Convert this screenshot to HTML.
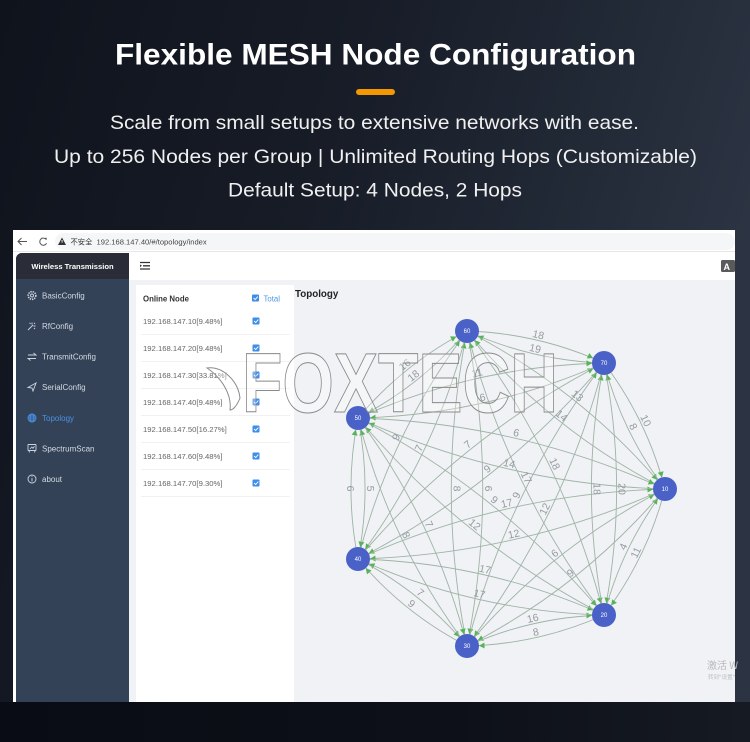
<!DOCTYPE html>
<html><head><meta charset="utf-8">
<style>
*{margin:0;padding:0;box-sizing:border-box}
html,body{width:750px;height:742px;overflow:hidden;background:#141923}
svg{display:block}
</style></head>
<body>
<svg width="750" height="742" viewBox="0 0 750 742" xmlns="http://www.w3.org/2000/svg" font-family="'Liberation Sans','Noto Sans CJK SC',sans-serif">
<defs>
<linearGradient id="bg" x1="0" y1="0" x2="1" y2="0.3">
<stop offset="0" stop-color="#0f131c"/>
<stop offset="0.45" stop-color="#171c27"/>
<stop offset="0.8" stop-color="#232b38"/>
<stop offset="1" stop-color="#2c3443"/>
</linearGradient>
<linearGradient id="bot" x1="0" y1="0" x2="1" y2="0">
<stop offset="0" stop-color="#0a0c15"/>
<stop offset="0.6" stop-color="#0d1018"/>
<stop offset="1" stop-color="#161a23"/>
</linearGradient>
<marker id="ar" markerUnits="userSpaceOnUse" markerWidth="30" markerHeight="12" viewBox="0 0 30 12" refX="20" refY="6" orient="auto">
<path d="M2.5 3 L8 6 L2.5 9 Z" fill="#58b358"/>
</marker>
</defs>

<rect width="750" height="742" fill="url(#bg)"/>
<rect y="702" width="750" height="40" fill="url(#bot)"/>

<!-- Header texts -->
<text x="115" y="64.5" font-size="29.5" font-weight="bold" fill="#ffffff" textLength="521" lengthAdjust="spacingAndGlyphs">Flexible MESH Node Configuration</text>
<rect x="356" y="89" width="39" height="6" rx="3" fill="#f39800"/>
<text x="110" y="129" font-size="19.5" fill="#f0f0f0" textLength="529" lengthAdjust="spacingAndGlyphs">Scale from small setups to extensive networks with ease.</text>
<text x="54" y="163" font-size="19.5" fill="#f0f0f0" textLength="643" lengthAdjust="spacingAndGlyphs">Up to 256 Nodes per Group | Unlimited Routing Hops (Customizable)</text>
<text x="228" y="196.5" font-size="19.5" fill="#f0f0f0" textLength="294" lengthAdjust="spacingAndGlyphs">Default Setup: 4 Nodes, 2 Hops</text>

<!-- Browser window -->
<rect x="13" y="230" width="722" height="472" fill="#ffffff"/>
<rect x="55" y="233" width="680" height="17" rx="8.5" fill="#f5f6f8"/>
<path d="M27 241.5 H18 M21.5 238 L18 241.5 L21.5 245" stroke="#555" stroke-width="1" fill="none"/>
<path d="M46.3 239.6 A3.6 3.6 0 1 0 46.6 243.2" stroke="#555" stroke-width="1" fill="none"/>
<path d="M44.8 238.6 L47 239.8 L46.2 237.3 Z" fill="#555"/>
<path d="M62 237.5 L66 245 L58 245 Z" fill="#333"/>
<rect x="61.6" y="240" width="0.9" height="2.6" fill="#fff"/>
<text x="70.5" y="244.5" font-size="7.3" fill="#333" font-family="'Noto Sans CJK SC',sans-serif">不安全</text>
<text x="96.5" y="244.5" font-size="7.6" fill="#444">192.168.147.40/#/topology/index</text>
<rect x="13" y="251" width="722" height="1" fill="#e6e6e6"/>

<!-- Sidebar -->
<path d="M16 259 a6 6 0 0 1 6 -6 H129 V702 H16 Z" fill="#344258"/>
<path d="M16 259 a6 6 0 0 1 6 -6 H129 V279 H16 Z" fill="#2a2d37"/>
<text x="72.5" y="269" font-size="7.6" font-weight="bold" fill="#ffffff" text-anchor="middle">Wireless Transmission</text>

<g fill="none" stroke="#cdd4de" stroke-width="0.9">
<circle cx="32" cy="295.5" r="3.8" stroke-dasharray="1.4 0.9" stroke-width="1.6"/>
<circle cx="32" cy="295.5" r="1.5"/>
<path d="M28 330 L33 325 M32 322.5 V324.5 M35.5 326 H33.5 M29.5 322.8 L30.6 323.9 M35 322.8 L34 323.9 M35 329 L34 328"/>
<path d="M28 355 H36 L33.5 353 M36 358.5 H28 L30.5 360.5"/>
<path d="M28 387.5 L36 383 L33 391 L32 388 Z"/>
<rect x="28" y="444.5" width="8" height="6" rx="0.5"/>
<path d="M29.5 452.5 L29 451 M34.5 452.5 L35 451 M30 449 L31.8 447 L33 448.3 L34.5 446.3"/>
<circle cx="32" cy="479" r="4"/>
<path d="M32 478 V481.5 M32 476.3 V477"/>
</g>
<g fill="none" stroke="#4a90e2" stroke-width="0.9">
<circle cx="32" cy="418" r="4"/>
<ellipse cx="32" cy="418" rx="1.8" ry="4"/>
<path d="M28 418 H36 M28.6 416 H35.4 M28.6 420 H35.4"/>
</g>
<g font-size="8" fill="#d3d9e2">
<text x="42" y="298.5">BasicConfig</text>
<text x="42" y="329">RfConfig</text>
<text x="42" y="359.7">TransmitConfig</text>
<text x="42" y="390">SerialConfig</text>
<text x="42" y="421" fill="#4a90e2">Topology</text>
<text x="42" y="451.3">SpectrumScan</text>
<text x="42" y="482">about</text>
</g>

<!-- Main header -->
<rect x="129" y="252" width="606" height="28" fill="#ffffff"/>
<path d="M140 262.5 H150 M143 265.8 H150 M140 269 H150" stroke="#333" stroke-width="1.3"/>
<path d="M140 264.5 L142 265.8 L140 267.1 Z" fill="#333"/>
<rect x="721" y="260" width="14" height="12" rx="1.5" fill="#5a5a5a"/>
<text x="723.5" y="270" font-size="9" font-weight="bold" fill="#ffffff">A</text>

<!-- Content -->
<rect x="129" y="280" width="606" height="422" fill="#f0f2f5"/>
<rect x="136" y="285" width="158" height="417" fill="#ffffff"/>
<text x="295" y="297" font-size="9.8" font-weight="bold" fill="#222">Topology</text>

<!-- Node list -->
<text x="143" y="301.5" font-size="7.8" font-weight="bold" fill="#333">Online Node</text>
<rect x="252" y="294.5" width="7" height="7" rx="1" fill="#3d8ee8"/>
<path d="M253.6 298 l1.6 1.6 l2.6 -3" stroke="#fff" stroke-width="0.9" fill="none"/>
<text x="263.5" y="301.5" font-size="7.8" fill="#4f96e6">Total</text>

<g stroke="#f1f1f1" stroke-width="1">
<path d="M141 334.5 H290 M141 361.5 H290 M141 388.5 H290 M141 415.5 H290 M141 442.5 H290 M141 469.5 H290 M141 496.5 H290"/>
</g>
<g font-size="7.7" fill="#666">
<text x="143" y="323.8">192.168.147.10[9.48%]</text>
<text x="143" y="350.8">192.168.147.20[9.48%]</text>
<text x="143" y="377.8">192.168.147.30[33.81%]</text>
<text x="143" y="404.8">192.168.147.40[9.48%]</text>
<text x="143" y="431.8">192.168.147.50[16.27%]</text>
<text x="143" y="458.8">192.168.147.60[9.48%]</text>
<text x="143" y="485.8">192.168.147.70[9.30%]</text>
</g>
<g fill="#3d8ee8">
<rect x="252.5" y="317.5" width="7" height="7" rx="1"/>
<rect x="252.5" y="344.5" width="7" height="7" rx="1"/>
<rect x="252.5" y="371.5" width="7" height="7" rx="1"/>
<rect x="252.5" y="398.5" width="7" height="7" rx="1"/>
<rect x="252.5" y="425.5" width="7" height="7" rx="1"/>
<rect x="252.5" y="452.5" width="7" height="7" rx="1"/>
<rect x="252.5" y="479.5" width="7" height="7" rx="1"/>
</g>
<g stroke="#fff" stroke-width="0.9" fill="none">
<path d="M254.1 321 l1.6 1.6 l2.6 -3"/>
<path d="M254.1 348 l1.6 1.6 l2.6 -3"/>
<path d="M254.1 375 l1.6 1.6 l2.6 -3"/>
<path d="M254.1 402 l1.6 1.6 l2.6 -3"/>
<path d="M254.1 429 l1.6 1.6 l2.6 -3"/>
<path d="M254.1 456 l1.6 1.6 l2.6 -3"/>
<path d="M254.1 483 l1.6 1.6 l2.6 -3"/>
</g>

<!-- Graph edges -->
<g fill="none" stroke="#9fb3a4" stroke-width="0.9" marker-end="url(#ar)">
<path d="M467 331 Q538.7 333.3 604 363"/>
<path d="M604 363 Q532.3 360.7 467 331"/>
<path d="M467 331 Q581.8 390.2 665 489"/>
<path d="M665 489 Q550.2 429.8 467 331"/>
<path d="M467 331 Q563.9 459.3 604 615"/>
<path d="M604 615 Q507.1 486.7 467 331"/>
<path d="M467 331 Q498.5 488.5 467 646"/>
<path d="M467 646 Q435.5 488.5 467 331"/>
<path d="M467 331 Q435.3 455.9 358 559"/>
<path d="M358 559 Q389.7 434.1 467 331"/>
<path d="M467 331 Q421.2 385.4 358 418"/>
<path d="M358 418 Q403.8 363.6 467 331"/>
<path d="M604 363 Q647.1 419.9 665 489"/>
<path d="M665 489 Q621.9 432.1 604 363"/>
<path d="M604 363 Q629.2 489 604 615"/>
<path d="M604 615 Q578.8 489 604 363"/>
<path d="M604 363 Q563.8 518.2 467 646"/>
<path d="M467 646 Q507.2 490.8 604 363"/>
<path d="M604 363 Q500.6 485.6 358 559"/>
<path d="M358 559 Q461.4 436.4 604 363"/>
<path d="M604 363 Q486.5 415.1 358 418"/>
<path d="M358 418 Q475.5 365.9 604 363"/>
<path d="M665 489 Q647.1 558.1 604 615"/>
<path d="M604 615 Q621.9 545.9 665 489"/>
<path d="M665 489 Q581.7 587.3 467 646"/>
<path d="M467 646 Q550.3 547.7 665 489"/>
<path d="M665 489 Q518.5 554.7 358 559"/>
<path d="M358 559 Q504.5 493.3 665 489"/>
<path d="M665 489 Q504.4 484.2 358 418"/>
<path d="M358 418 Q518.6 422.8 665 489"/>
<path d="M604 615 Q538.6 644.2 467 646"/>
<path d="M467 646 Q532.4 616.8 604 615"/>
<path d="M604 615 Q475.4 611.6 358 559"/>
<path d="M358 559 Q486.6 562.4 604 615"/>
<path d="M604 615 Q461.3 541.1 358 418"/>
<path d="M358 418 Q500.7 491.9 604 615"/>
<path d="M467 646 Q403.8 613.4 358 559"/>
<path d="M358 559 Q421.2 591.6 467 646"/>
<path d="M467 646 Q389.7 542.9 358 418"/>
<path d="M358 418 Q435.3 521.1 467 646"/>
<path d="M358 559 Q343.9 488.5 358 418"/>
<path d="M358 418 Q372.1 488.5 358 559"/>
</g>

<!-- Edge labels -->
<g font-size="10.5" fill="#959a a0" text-anchor="middle" style="fill:#969ba1">
<text transform="translate(537.1 340.2) rotate(13.1)" y="-2">18</text>
<text transform="translate(533.9 353.9) rotate(13.1)" y="-2">19</text>
<text transform="translate(573.9 400.1) rotate(38.6)" y="-2">13</text>
<text transform="translate(558.1 419.9) rotate(38.6)" y="-2">14</text>
<text transform="translate(549.7 466.2) rotate(64.2)" y="-2">18</text>
<text transform="translate(521.3 479.9) rotate(64.2)" y="-2">17</text>
<text transform="translate(482.8 488.5) rotate(90)" y="-2">6</text>
<text transform="translate(451.3 488.5) rotate(90)" y="-2">8</text>
<text transform="translate(423.9 450.5) rotate(-64.5)" y="-2">7</text>
<text transform="translate(401.1 439.6) rotate(-64.5)" y="-2">9</text>
<text transform="translate(416.9 380) rotate(-38.6)" y="-2">18</text>
<text transform="translate(408.2 369) rotate(-38.6)" y="-2">16</text>
<text transform="translate(640.8 423) rotate(64.2)" y="-2">10</text>
<text transform="translate(628.2 429) rotate(64.2)" y="-2">8</text>
<text transform="translate(616.6 489) rotate(90)" y="-2">20</text>
<text transform="translate(591.4 489) rotate(90)" y="-2">18</text>
<text transform="translate(549.7 511.4) rotate(-64.2)" y="-2">12</text>
<text transform="translate(521.4 497.7) rotate(-64.2)" y="-2">9</text>
<text transform="translate(490.8 473.3) rotate(-38.6)" y="-2">9</text>
<text transform="translate(471.2 448.7) rotate(-38.6)" y="-2">7</text>
<text transform="translate(483.8 402.8) rotate(-12.6)" y="-2">6</text>
<text transform="translate(478.3 378.2) rotate(-12.6)" y="-2">11</text>
<text transform="translate(640.8 555) rotate(-64.2)" y="-2">11</text>
<text transform="translate(628.2 549) rotate(-64.2)" y="-2">4</text>
<text transform="translate(573.9 577.4) rotate(-38.4)" y="-2">9</text>
<text transform="translate(558.2 557.6) rotate(-38.4)" y="-2">6</text>
<text transform="translate(515 539.4) rotate(-12.8)" y="-2">12</text>
<text transform="translate(508 508.7) rotate(-12.8)" y="-2">17</text>
<text transform="translate(508 468.9) rotate(13)" y="-2">14</text>
<text transform="translate(515 438.2) rotate(13)" y="-2">6</text>
<text transform="translate(537.1 637.4) rotate(-12.8)" y="-2">8</text>
<text transform="translate(534 623.7) rotate(-12.8)" y="-2">16</text>
<text transform="translate(478.2 599.3) rotate(12.8)" y="-2">17</text>
<text transform="translate(483.8 574.7) rotate(12.8)" y="-2">17</text>
<text transform="translate(471.2 528.8) rotate(38.7)" y="-2">12</text>
<text transform="translate(490.9 504.2) rotate(38.7)" y="-2">9</text>
<text transform="translate(408.2 608) rotate(38.6)" y="-2">9</text>
<text transform="translate(416.9 597) rotate(38.6)" y="-2">7</text>
<text transform="translate(401.1 537.5) rotate(64.5)" y="-2">8</text>
<text transform="translate(423.9 526.6) rotate(64.5)" y="-2">7</text>
<text transform="translate(351 488.5) rotate(90)" y="4">6</text>
<text transform="translate(365 488.5) rotate(90)" y="-2">5</text>
</g>

<!-- Nodes -->
<g fill="#4a62c8">
<circle cx="467" cy="331" r="12"/>
<circle cx="604" cy="363" r="12"/>
<circle cx="665" cy="489" r="12"/>
<circle cx="604" cy="615" r="12"/>
<circle cx="467" cy="646" r="12"/>
<circle cx="358" cy="559" r="12"/>
<circle cx="358" cy="418" r="12"/>
</g>
<g font-size="6" fill="#ffffff" text-anchor="middle">
<text x="467" y="333">60</text>
<text x="604" y="365">70</text>
<text x="665" y="491">10</text>
<text x="604" y="617">20</text>
<text x="467" y="648">30</text>
<text x="358" y="561">40</text>
<text x="358" y="420">50</text>
</g>

<!-- Windows activation watermark -->
<text x="707" y="669" font-size="10" fill="#b8b8b8" font-family="'Noto Sans CJK SC',sans-serif">激活 W</text>
<text x="708" y="679" font-size="5.5" fill="#bdbdbd" font-family="'Noto Sans CJK SC',sans-serif">转到"设置"</text>

<!-- FOXTECH watermark -->
<path d="M207 368 C222 366 238 380 240 398 C236 408 232 410 230 410 C232 395 222 378 207 368 Z" fill="rgba(255,255,255,0.3)" stroke="#8a8a8a" stroke-width="1"/>
<text x="242" y="412" font-size="84" font-weight="bold" textLength="316" lengthAdjust="spacingAndGlyphs" fill="rgba(255,255,255,0.3)" stroke="#8a8a8a" stroke-width="1">FOXTECH</text>
</svg>
</body></html>
